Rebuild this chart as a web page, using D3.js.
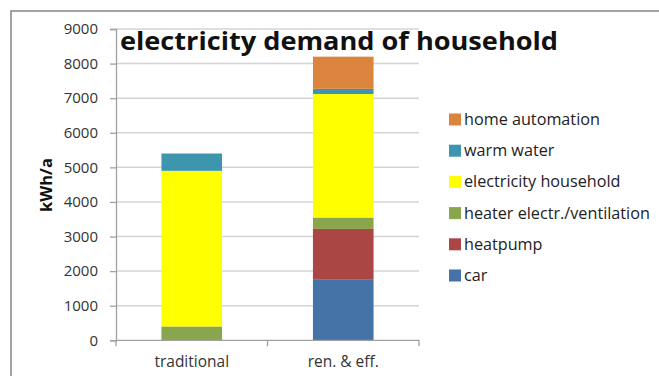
<!DOCTYPE html>
<html><head><meta charset="utf-8">
<script src="https://cdn.jsdelivr.net/npm/d3@7"></script>
<style>body{margin:0;background:#fff}svg{display:block}</style>
</head><body>
<svg id="c" width="659" height="376"></svg>
<script>
const categories = ["traditional", "ren. & eff."];
const seriesNames = ["car", "heatpump", "heater electr./ventilation", "electricity household", "warm water", "home automation"];
const car = [0, 1750];
const heatpump = [0, 1470];
const heaterVent = [400, 330];
const elecHousehold = [4500, 3570];
const warmWater = [500, 150];
const homeAutomation = [0, 930];
const yTicks = [0, 1000, 2000, 3000, 4000, 5000, 6000, 7000, 8000, 9000];
const colors = ["#4572a7", "#aa4643", "#89a54e", "#ffff00", "#3d96ae", "#db843d"];
const title = "electricity demand of household";
const yLabel = "kWh/a";

const seriesVals = [car, heatpump, heaterVent, elecHousehold, warmWater, homeAutomation];
const rows = categories.map((c, i) => {
  const r = {cat: c};
  seriesNames.forEach((s, k) => r[s] = seriesVals[k][i]);
  return r;
});
const stacked = d3.stack().keys(seriesNames)(rows);

const svg = d3.select("#c");
const font = "'Open Sans', sans-serif";
// chart border
svg.append("rect").attr("x", 11).attr("y", 11).attr("width", 700).attr("height", 400)
  .attr("fill", "none").attr("stroke", "#8c8c8c").attr("stroke-width", 1.6);

const L = 116, R = 419, T = 29, B = 340.3;
const x = d3.scaleBand().domain(categories).range([L, R]).paddingInner(0.6).paddingOuter(0.3);
const y = d3.scaleLinear().domain([0, 9000]).range([B, T]);

// gridlines
svg.append("g").selectAll("line").data(yTicks.slice(1)).join("line")
  .attr("x1", L).attr("x2", R).attr("y1", d => y(d)).attr("y2", d => y(d))
  .attr("stroke", "#d4d4d4").attr("stroke-width", 1.5);

// y axis
const ya = svg.append("g").attr("transform", `translate(${L},0)`)
  .call(d3.axisLeft(y).tickValues(yTicks).tickSize(6).tickPadding(12).tickFormat(d3.format("d")));
ya.select(".domain").attr("stroke", "#a0a0a0").attr("stroke-width", 1.3);
ya.selectAll(".tick line").attr("stroke", "#a0a0a0").attr("stroke-width", 1.3);
ya.selectAll("text").attr("font-family", font).attr("font-size", 15).attr("fill", "#333");

// bars
svg.append("g").selectAll("g").data(stacked).join("g")
  .attr("fill", (d, i) => colors[i])
  .selectAll("rect").data(d => d).join("rect")
  .attr("x", d => x(d.data.cat))
  .attr("width", x.bandwidth())
  .attr("y", d => y(d[1]))
  .attr("height", d => y(d[0]) - y(d[1]));

// x axis
const xs = d3.scalePoint().domain([0, 1, 2]).range([L, R]);
const xg = svg.append("g");
xg.append("line").attr("x1", L).attr("x2", R).attr("y1", B).attr("y2", B)
  .attr("stroke", "#a0a0a0").attr("stroke-width", 1.3);
xg.selectAll("line.t").data([0, 1, 2]).join("line").attr("class", "t")
  .attr("x1", d => xs(d)).attr("x2", d => xs(d)).attr("y1", B).attr("y2", B + 6)
  .attr("stroke", "#a0a0a0").attr("stroke-width", 1.3);
xg.selectAll("text").data(categories).join("text")
  .attr("x", d => x(d) + x.bandwidth() / 2).attr("y", 367)
  .attr("text-anchor", "middle").attr("font-family", font).attr("font-size", 15.5).attr("fill", "#333")
  .text(d => d);

// y label
svg.append("text").attr("transform", "translate(52,185) rotate(-90)")
  .attr("text-anchor", "middle").attr("font-family", font).attr("font-weight", "bold")
  .attr("font-size", 16.5).attr("fill", "#111").text(yLabel);

// title
svg.append("text").attr("x", 120).attr("y", 50).attr("font-family", font).attr("font-weight", "bold")
  .attr("font-size", 25).attr("fill", "#111")
  .attr("textLength", 438).attr("lengthAdjust", "spacingAndGlyphs").text(title);

// legend (reverse order)
const leg = svg.append("g");
const legItems = seriesNames.map((s, i) => ({s, c: colors[i]})).reverse();
leg.selectAll("rect").data(legItems).join("rect")
  .attr("x", 449).attr("y", (d, i) => 119.5 + i * 31.2 - 6).attr("width", 12).attr("height", 12)
  .attr("fill", d => d.c);
leg.selectAll("text").data(legItems).join("text")
  .attr("x", 464).attr("y", (d, i) => 119.5 + i * 31.2 + 5.5)
  .attr("font-family", font).attr("font-size", 16.2).attr("fill", "#222").text(d => d.s);
</script>
</body></html>
